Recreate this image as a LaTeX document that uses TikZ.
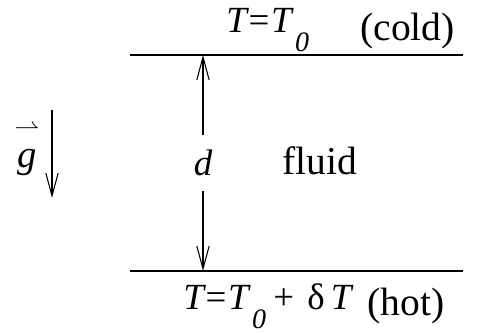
\documentclass[tikz,border=0pt]{standalone}
\usepackage{amsmath}
\usepackage{fontspec}
\setmainfont{Liberation Serif}
\usepackage{tikz}
\usetikzlibrary{arrows.meta}

% lowered subscript zero as in the scan
\newcommand{\subz}{\hspace{2pt}\raisebox{-10.5pt}{\fontsize{16}{16}\selectfont\itshape 0}}
\newcommand{\eqs}{\hspace{1pt}{\upshape =}\hspace{1pt}}

\begin{document}
\begin{tikzpicture}[
  x=0.02cm, y=-0.02cm,
  every node/.style={inner sep=0pt},
  mth/.style={font=\fontsize{21}{24}\selectfont\itshape},
  txt/.style={font=\fontsize{22.5}{26}\selectfont},
  plate/.style={line width=0.85pt},
  arr/.style={line width=0.6pt,-{Straight Barb[length=13pt,width=7pt]}}
]
  \useasboundingbox (0,0) rectangle (488,333);

  % plates
  \coordinate (tl) at (130,55);
  \coordinate (tr) at (463,55);
  \coordinate (bl) at (130,271);
  \coordinate (br) at (463,271);
  \draw[plate] (tl) -- (tr);
  \draw[plate] (bl) -- (br);

  % depth d
  \coordinate (dtop) at (203,55);
  \coordinate (dbot) at (203,271);
  \node[mth,minimum height=1.1cm] (d) at (203,163) {d};
  \draw[arr] (d) -- (dtop);
  \draw[arr] (d) -- (dbot);

  \node[txt,anchor=base west] (fluid) at (282,175) {fluid};

  % gravity
  \coordinate (gtop) at (52,110);
  \coordinate (gtip) at (52,198);
  \draw[arr] (gtop) -- (gtip);
  \node[anchor=base,font=\fontsize{22}{26}\selectfont] (g) at (27,168)
    {$\overset{\rightharpoonup}{\mbox{\itshape g\rule{0pt}{15pt}}}$};

  % boundary temperatures
  \node[mth,anchor=base west] (coldT) at (226,33) {T\eqs T\subz};
  \node[txt,anchor=base west] (cold) at (360,41) {(cold)};
  \node[mth,anchor=base west] (hotT) at (183,310) {T\eqs T\subz\hspace{4pt}{\upshape +}};
  \node[mth,anchor=base west] (dT) at (307,310) {{\upshape δ}\,T};
  \node[txt,anchor=base west] (hot) at (367,316) {(hot)};
\end{tikzpicture}
\end{document}
